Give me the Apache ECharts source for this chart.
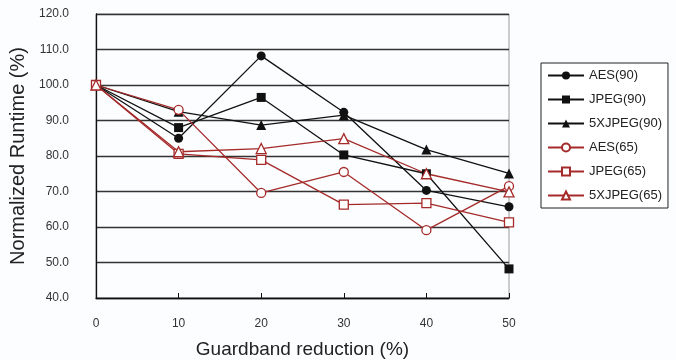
<!DOCTYPE html>
<html><head><meta charset="utf-8">
<script src="https://cdn.jsdelivr.net/npm/echarts@6/dist/echarts.min.js"></script>
<style>html,body{margin:0;padding:0;background:#fcfdfe}#c{width:676px;height:360px}</style>
</head><body><div id="c"></div>
<script>
const xValues = [0, 10, 20, 30, 40, 50];
const aes90 = [100, 85.0, 108.2, 92.3, 70.3, 65.7];
const jpeg90 = [100, 88.0, 96.5, 80.3, 75.0, 48.2];
const xjpeg90 = [100, 92.5, 88.7, 91.5, 81.8, 75.1];
const aes65 = [100, 93.0, 69.6, 75.5, 59.1, 71.5];
const jpeg65 = [100, 80.6, 78.9, 66.3, 66.7, 61.3];
const xjpeg65 = [100, 81.2, 82.1, 84.9, 75.0, 69.9];
const seriesNames = ['AES(90)', 'JPEG(90)', '5XJPEG(90)', 'AES(65)', 'JPEG(65)', '5XJPEG(65)'];

const BLACK = '#111111', RED = '#a52a2a';
function mk(name, vals, color, symbol, size, filled) {
  return {
    name: name, type: 'line', data: xValues.map((x, i) => [x, vals[i]]),
    symbol: symbol, symbolSize: size, showSymbol: true,
    lineStyle: { color: color, width: 1.3 },
    itemStyle: { color: filled ? color : '#ffffff', borderColor: color, borderWidth: filled ? 0 : 1.3 },
    emphasis: { disabled: true }
  };
}
const chart = echarts.init(document.getElementById('c'), null, { renderer: 'canvas' });
chart.setOption({
  animation: false,
  backgroundColor: '#fcfdfe',
  textStyle: { fontFamily: 'Liberation Sans, Arial, sans-serif' },
  grid: { left: 96, right: 167, top: 14, bottom: 62, outerBoundsMode: 'none', containLabel: false,
          show: true, borderColor: '#9a9a9a', borderWidth: 1, backgroundColor: 'transparent' },
  legend: {
    orient: 'vertical', left: 541, top: 63, width: 124,
    padding: [6, 6, 6, 6], itemWidth: 36, itemHeight: 10, itemGap: 11,
    borderColor: '#222', borderWidth: 1, backgroundColor: '#fff',
    textStyle: { fontSize: 13, color: '#222', fontFamily: 'Liberation Sans, Arial, sans-serif' },
    data: seriesNames
  },
  xAxis: {
    type: 'value', min: 0, max: 50, interval: 10,
    name: 'Guardband reduction (%)', nameLocation: 'middle', nameGap: 42,
    nameTextStyle: { fontSize: 19, color: '#222' },
    axisLine: { show: true, lineStyle: { color: '#111', width: 1.3 } },
    axisTick: { show: true, inside: true, length: 5, lineStyle: { color: '#111' } },
    axisLabel: { fontSize: 12, color: '#333', margin: 20 },
    splitLine: { show: false }
  },
  yAxis: {
    type: 'value', min: 40, max: 120, interval: 10,
    name: 'Normalized Runtime (%)', nameLocation: 'middle', nameGap: 61,
    nameTextStyle: { fontSize: 20, color: '#222' },
    axisLine: { show: true, lineStyle: { color: '#111', width: 1.3 } },
    axisTick: { show: false },
    axisLabel: { fontSize: 12, color: '#333', margin: 27, formatter: v => v.toFixed(1) },
    splitLine: { show: true, lineStyle: { color: '#333', width: 1.3 } }
  },
  series: [
    mk(seriesNames[0], aes90, BLACK, 'circle', 9, true),
    mk(seriesNames[1], jpeg90, BLACK, 'rect', 9, true),
    mk(seriesNames[2], xjpeg90, BLACK, 'triangle', 10, true),
    mk(seriesNames[3], aes65, RED, 'circle', 9, false),
    mk(seriesNames[4], jpeg65, RED, 'rect', 9, false),
    mk(seriesNames[5], xjpeg65, RED, 'triangle', 10, false)
  ]
});
</script></body></html>
